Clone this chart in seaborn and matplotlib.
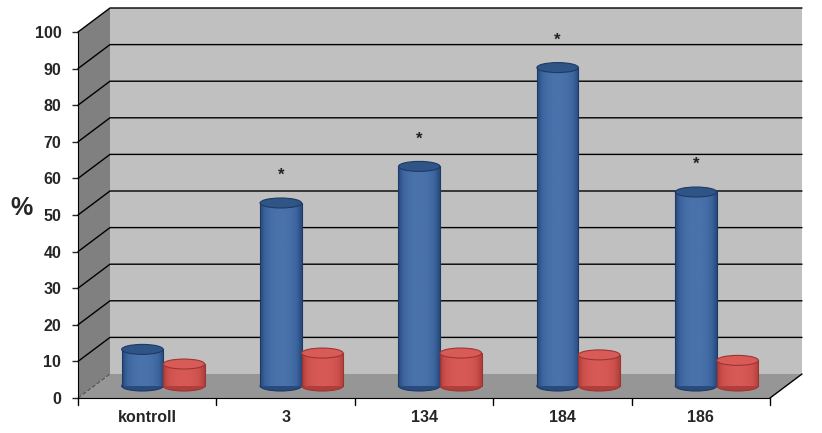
import numpy as np
import pandas as pd
import matplotlib
matplotlib.use("Agg")
import matplotlib.pyplot as plt
import seaborn as sns
from matplotlib.patches import Rectangle, Polygon, Ellipse

# data
groups = ["kontroll", "3", "134", "184", "186"]
blue_vals = [10, 50, 60, 87, 53]
red_vals = [6, 9, 9, 8.5, 7]
star = [False, True, True, True, True]
yticks = list(range(0, 101, 10))

BLUE = "#3d659f"
RED = "#cc504d"

df = pd.DataFrame({
    "group": groups * 2,
    "value": blue_vals + red_vals,
    "series": ["a"] * len(groups) + ["b"] * len(groups),
})

sns.set_style("white")
plt.rcParams["font.family"] = ["Liberation Sans", "DejaVu Sans"]

fig = plt.figure(figsize=(8.22, 4.33), dpi=100)
ax = fig.add_axes([78 / 822, 1 - 398 / 433, (770 - 78) / 822, (398 - 32) / 433])

sns.barplot(data=df, x="group", y="value", hue="series", palette=[BLUE, RED],
            width=0.6, ax=ax, legend=False, saturation=1, zorder=3)
ax.set_xlim(-0.5, len(groups) - 0.5)
ax.set_ylim(0, 100)
ax.patch.set_alpha(0)

# 3d depth offset converted to data units
px_x = (770 - 78) / len(groups)
px_y = (398 - 32) / 100
dx = 32 / px_x
dy = 24 / px_y
x0, x1 = -0.5, len(groups) - 0.5

# walls and floor
ax.add_patch(Rectangle((x0 + dx, dy), x1 - x0, 100, facecolor="#c0c0c0",
                       edgecolor="none", zorder=0, clip_on=False))
ax.add_patch(Polygon([(x0, 0), (x0 + dx, dy), (x0 + dx, 100 + dy), (x0, 100)],
                     facecolor="#808080", edgecolor="none", zorder=0.5, clip_on=False))
ax.add_patch(Polygon([(x0, 0), (x1, 0), (x1 + dx, dy), (x0 + dx, dy)],
                     facecolor="#969696", edgecolor="none", zorder=1, clip_on=False))
for t in yticks[1:]:
    ax.plot([x0, x0 + dx, x1 + dx], [t, t + dy, t + dy], color="black",
            lw=1, zorder=1.5, clip_on=False)
ax.plot([x0, x0 + dx], [0, dy], color="#505050", lw=0.8, ls="--", zorder=1.5, clip_on=False)
ax.plot([x1, x1 + dx], [0, dy], color="black", lw=1, zorder=1.5, clip_on=False)

# cylinders
cap_h = 10 / px_y
for p, col in zip(ax.patches[:2 * len(groups)],
                  [BLUE] * len(groups) + [RED] * len(groups)):
    w = p.get_width()
    h = p.get_height()
    p.set_x(p.get_x() + dx / 2)
    p.set_y(dy / 2)
    p.set_edgecolor("none")
    cx = p.get_x() + w / 2
    dark = "#1d3a66" if col == BLUE else "#9c3532"
    edge_col = "#284a7c" if col == BLUE else "#b03e3b"
    ax.add_patch(Ellipse((cx, dy / 2), w, cap_h, facecolor=edge_col, edgecolor=dark,
                         lw=0.8, zorder=2.9, clip_on=False))
    # soft horizontal shading on the cylinder body
    grad = np.abs(np.linspace(-1, 1, 64)) ** 2.2
    grad = np.atleast_2d(1 - grad)
    cmap = matplotlib.colors.LinearSegmentedColormap.from_list(
        "c", [edge_col, col, "#4a72ab" if col == BLUE else "#d85a56"])
    im = ax.imshow(grad, extent=[p.get_x(), p.get_x() + w, dy / 2, dy / 2 + h],
                   aspect="auto", cmap=cmap, vmin=0, vmax=1, zorder=3.1)
    im.set_clip_path(p)
    ax.plot([p.get_x(), p.get_x()], [dy / 2, dy / 2 + h], color=dark, lw=0.8, zorder=3.2)
    ax.plot([p.get_x() + w] * 2, [dy / 2, dy / 2 + h], color=dark, lw=0.8, zorder=3.2)
    ax.add_patch(Ellipse((cx, dy / 2 + h), w, cap_h,
                         facecolor="#2f5486" if col == BLUE else "#d85b58",
                         edgecolor=dark, lw=0.8, zorder=3.3, clip_on=False))

ax.set_xlim(x0, x1)
ax.set_ylim(0, 100)

# significance stars
blue_bars = ax.patches[:len(groups)]
for p, v, s in zip(blue_bars, blue_vals, star):
    if s:
        ax.text(p.get_x() + p.get_width() / 2, v + dy / 2 + 7.5, "*",
                ha="center", va="center", fontsize=12, fontweight="bold",
                color="#222222", zorder=4)

# axes styling
for side in ["top", "right"]:
    ax.spines[side].set_visible(False)
ax.spines["left"].set_color("black")
ax.spines["bottom"].set_color("black")
ax.set_yticks(yticks)
ax.set_yticklabels([str(t) for t in yticks], fontsize=11.5, fontweight="bold")
ax.set_xticks(range(len(groups)))
ax.set_xticklabels(groups, fontsize=11.5, fontweight="bold")
ax.tick_params(axis="x", length=0, pad=9)
ax.tick_params(axis="y", length=4, width=1, direction="out", left=True, pad=8)
for b in np.arange(x0, x1 + 0.01, 1):
    ax.plot([b, b], [0, -1.8], color="black", lw=1, clip_on=False, zorder=5)
ax.set_xlabel("")
ax.set_ylabel("")
fig.text(21 / 822, 1 - 208 / 433, "%", fontsize=18, fontweight="bold",
         ha="center", va="center")

fig.savefig("out.png", dpi=100, facecolor="white")
